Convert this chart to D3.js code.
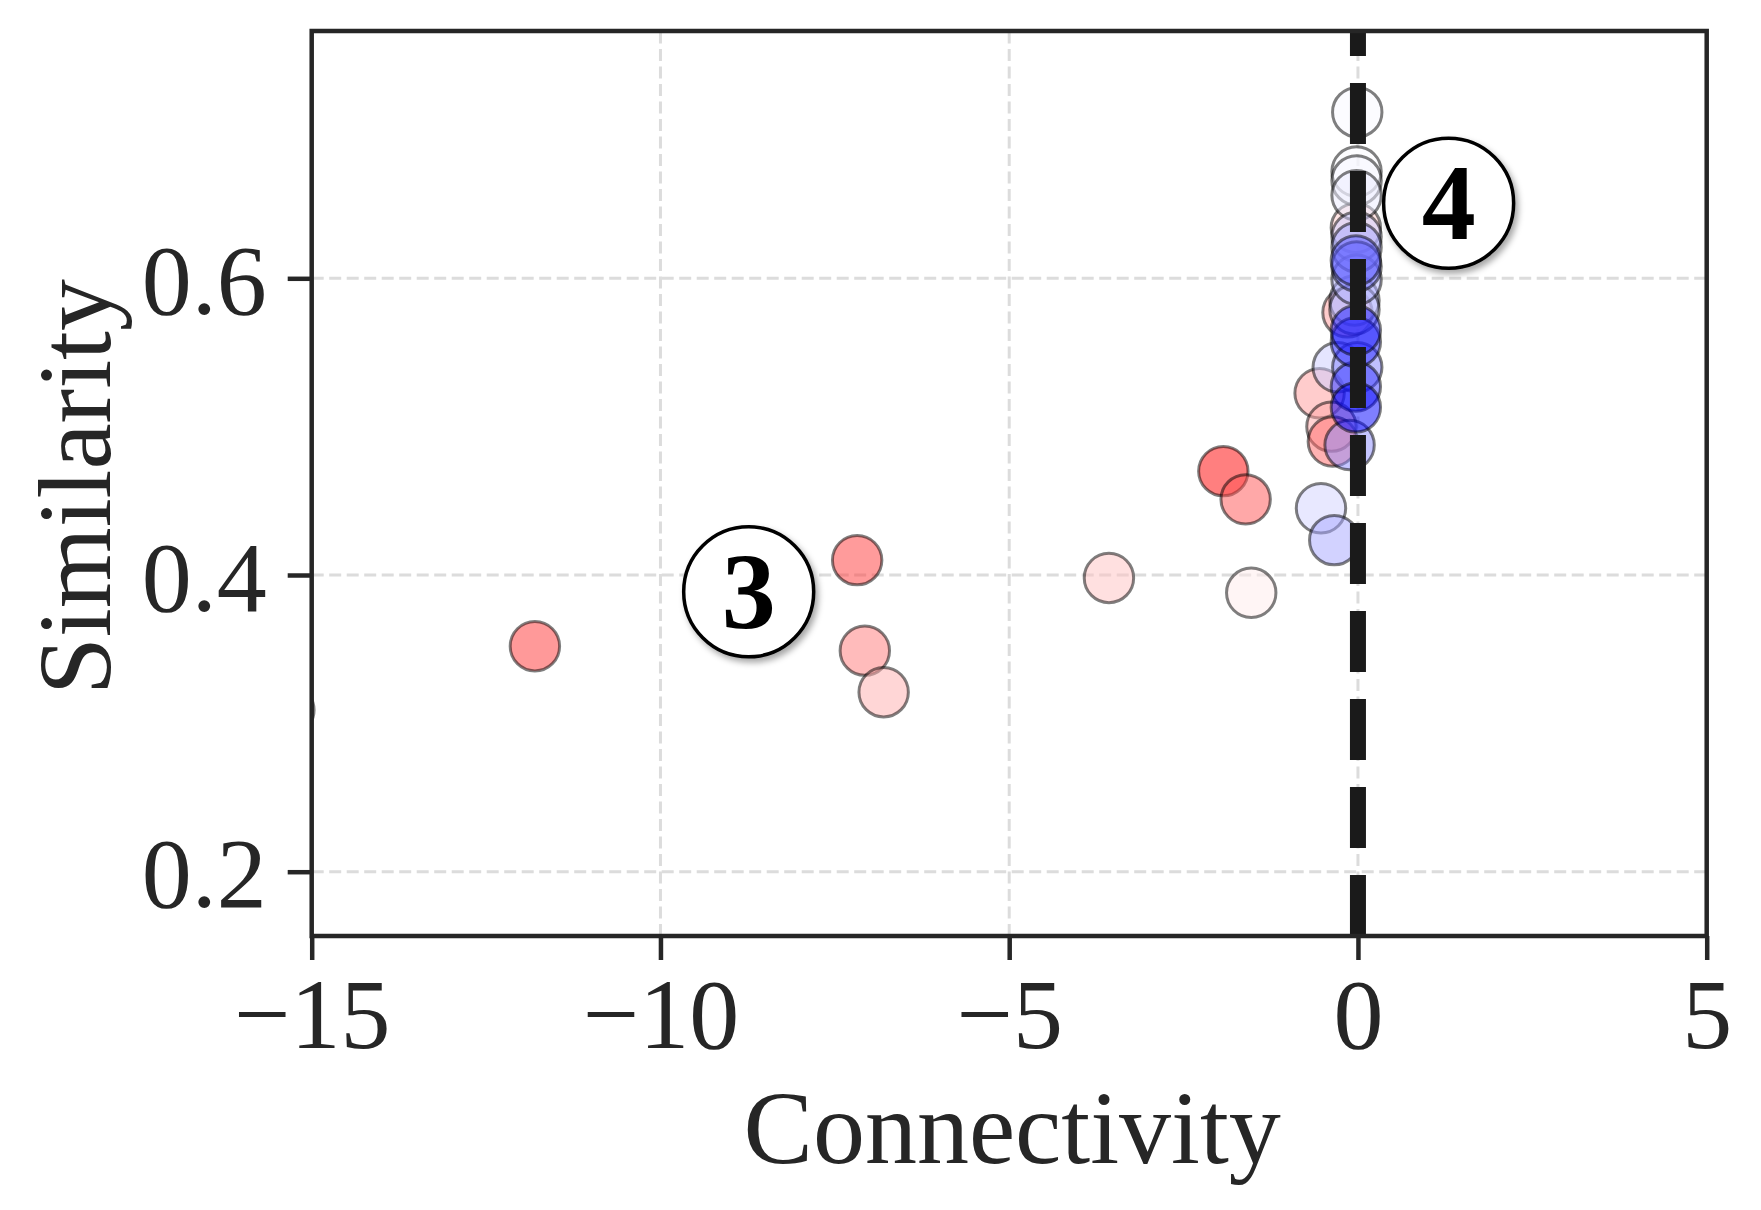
<!DOCTYPE html>
<html>
<head>
<meta charset="utf-8">
<script src="https://cdn.jsdelivr.net/npm/d3@7"></script>
<style>
  html, body { margin: 0; padding: 0; background: #ffffff; }
  svg { display: block; }
</style>
</head>
<body>
<svg id="chart" width="1761" height="1210"></svg>
<script>
// ---------------- data ----------------
const connectivity = [
  -15.32, -11.8, -7.18, -7.07, -6.80, -3.57, -1.93, -1.61, -1.53, -0.53, -0.34,
  -0.03, -0.15, -0.55, -0.38, -0.36,
  -0.01, -0.02, -0.02, -0.02, -0.29, -0.02, -0.05, -0.05, -0.02, -0.12,
  -0.01, -0.02, -0.02, -0.03, -0.03, -0.03, -0.03, -0.03
];
const similarity = [
  0.309, 0.352, 0.410, 0.349, 0.321, 0.398, 0.470, 0.451, 0.388, 0.445, 0.4235,
  0.634, 0.577, 0.5225, 0.500, 0.490,
  0.712, 0.672, 0.666, 0.656, 0.540, 0.628, 0.585, 0.579, 0.599, 0.4876,
  0.540, 0.621, 0.608, 0.612, 0.527, 0.557, 0.565, 0.513
];
// colour value in [-1, 1] (blue - white - red)
const colorValue = [
  0.15, 0.80, 0.78, 0.53, 0.32, 0.24, 1.00, 0.68, 0.08, -0.18, -0.35,
  0.20, 0.40, 0.40, 0.35, 0.60,
  -0.02, -0.01, -0.04, -0.08, -0.20, -0.20, -0.30, -0.25, -0.30, -0.45,
  -0.50, -0.35, -0.55, -0.65, -0.80, -0.85, -0.90, -1.00
];
const xTicks = [-15, -10, -5, 0, 5];
const xTickLabels = ["\u221215", "\u221210", "\u22125", "0", "5"];
const yTicks = [0.2, 0.4, 0.6];
const yTickLabels = ["0.2", "0.4", "0.6"];
const annotLabels = ["3", "4"];
const annotX = [-8.735, 1.30];
const annotY = [0.3887, 0.6506];
const refLineX = 0;
const xTitle = "Connectivity";
const yTitle = "Similarity";

// ---------------- layout ----------------
const W = 1761, H = 1210;
const L = 311.7, R = 1706.7, T = 31, B = 936;
const ink = "#262626";
const serif = "'Liberation Serif', 'Times New Roman', Times, serif";

const svg = d3.select("#chart");
const x = d3.scaleLinear().domain([-15, 5]).range([L, R]);
const y = d3.scaleLinear().domain([0.15666, 0.7667]).range([B, T]);
const color = d3.scaleLinear().domain([-1, 0, 1]).range(["#0000ff", "#ffffff", "#ff0000"]);

const defs = svg.append("defs");
defs.append("clipPath").attr("id", "plotClip")
  .append("rect").attr("x", L).attr("y", T).attr("width", R - L).attr("height", B - T);
const shadow = defs.append("filter").attr("id", "shadow")
  .attr("x", "-30%").attr("y", "-30%").attr("width", "160%").attr("height", "160%");
shadow.append("feDropShadow").attr("dx", 3).attr("dy", 4)
  .attr("stdDeviation", 3).attr("flood-color", "#000").attr("flood-opacity", 0.35);

// grid
const grid = svg.append("g").attr("clip-path", "url(#plotClip)");
grid.selectAll("line.gx").data(xTicks).join("line")
  .attr("x1", d => x(d)).attr("x2", d => x(d)).attr("y1", B).attr("y2", T)
  .attr("stroke", "#dcdcdc").attr("stroke-width", 3).attr("stroke-dasharray", "12,5.5");
grid.selectAll("line.gy").data(yTicks).join("line")
  .attr("y1", d => y(d)).attr("y2", d => y(d)).attr("x1", L).attr("x2", R)
  .attr("stroke", "#dcdcdc").attr("stroke-width", 3).attr("stroke-dasharray", "12,5.5");

// points
const pts = connectivity.map((c, i) => ({ c, s: similarity[i], v: colorValue[i] }));
svg.append("g").attr("clip-path", "url(#plotClip)")
  .selectAll("circle").data(pts).join("circle")
  .attr("cx", d => x(d.c)).attr("cy", d => y(d.s)).attr("r", 24.7)
  .attr("fill", d => color(d.v)).attr("fill-opacity", 0.5)
  .attr("stroke", "#000").attr("stroke-opacity", 0.5).attr("stroke-width", 3);

// vertical reference line
svg.append("g").attr("clip-path", "url(#plotClip)")
  .append("line")
  .attr("x1", x(refLineX)).attr("x2", x(refLineX)).attr("y1", B).attr("y2", T)
  .attr("stroke", "#1a1a1a").attr("stroke-width", 16).attr("stroke-dasharray", "61,27");

// annotations
const ann = svg.append("g").selectAll("g").data(annotLabels.map((t, i) => ({ t, ax: annotX[i], ay: annotY[i] })))
  .join("g").attr("transform", d => `translate(${x(d.ax)},${y(d.ay)})`);
ann.append("circle").attr("r", 65).attr("fill", "#fff")
  .attr("stroke", "#000").attr("stroke-width", 3.5).attr("filter", "url(#shadow)");
ann.append("text").text(d => d.t)
  .attr("text-anchor", "middle").attr("y", 36)
  .attr("font-family", serif).attr("font-weight", "bold").attr("font-size", 108)
  .attr("fill", "#000");

// axes
const xAxis = d3.axisBottom(x).tickValues(xTicks).tickFormat((d, i) => xTickLabels[i])
  .tickSize(24).tickPadding(17);
const gx = svg.append("g").attr("transform", `translate(0,${B})`).call(xAxis);
gx.select(".domain").remove();
gx.selectAll(".tick line").attr("stroke", ink).attr("stroke-width", 4.5);
gx.selectAll(".tick text").attr("fill", ink).attr("font-family", serif).attr("font-size", 100);

const yAxis = d3.axisLeft(y).tickValues(yTicks).tickFormat((d, i) => yTickLabels[i])
  .tickSize(24).tickPadding(21);
const gy = svg.append("g").attr("transform", `translate(${L},0)`).call(yAxis);
gy.select(".domain").remove();
gy.selectAll(".tick line").attr("stroke", ink).attr("stroke-width", 4.5);
gy.selectAll(".tick text").attr("fill", ink).attr("font-family", serif).attr("font-size", 100)
  .attr("dy", "0.35em");

// frame
svg.append("rect").attr("x", L).attr("y", T).attr("width", R - L).attr("height", B - T)
  .attr("fill", "none").attr("stroke", ink).attr("stroke-width", 4.5);

// titles
svg.append("text").text(xTitle)
  .attr("x", (L + R) / 2 + 3).attr("y", 1163).attr("text-anchor", "middle")
  .attr("font-family", serif).attr("font-size", 104).attr("fill", ink);
svg.append("text").text(yTitle)
  .attr("transform", `translate(110,487) rotate(-90)`).attr("text-anchor", "middle")
  .attr("font-family", serif).attr("font-size", 104).attr("fill", ink);
</script>
</body>
</html>
